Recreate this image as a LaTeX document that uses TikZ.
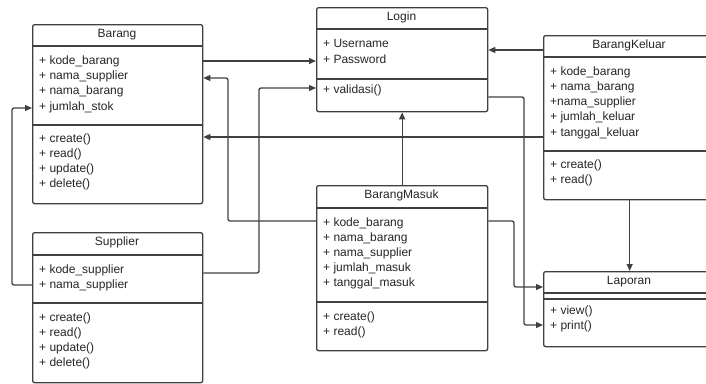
\documentclass[tikz,border=0pt]{standalone}
\usepackage{fontspec}
\setmainfont{Liberation Sans}
\usetikzlibrary{arrows.meta}
\definecolor{umlline}{HTML}{404040}
\definecolor{umltext}{HTML}{262626}

\begin{document}
\begin{tikzpicture}[x=1pt,y=-1pt,
  classbox/.style={draw=umlline,line width=1.3pt,rounded corners=2pt,fill=white,anchor=north west,inner sep=0pt},
  member/.style={anchor=west,inner sep=0pt,text=umltext,font=\fontsize{12}{15}\selectfont,text height=8.6pt,text depth=2.6pt},
  title/.style={member,anchor=center},
  conn/.style={draw=umlline,line width=1.3pt,rounded corners=2pt,-{Triangle[length=7pt,width=6pt]}}]
  \useasboundingbox (0,0) rectangle (706,383);

  % class boxes
  \foreach \cls/\ttl/\xa/\ya/\xb/\yb/\sa/\sb in {
    barang/Barang/32/24/202/203/46/125,
    supplier/Supplier/32/232/202/382/255/303,
    login/Login/316/7/487/111/29/79,
    keluar/BarangKeluar/543/35/715/199/57/151,
    masuk/BarangMasuk/316/185/487/350/208/302,
    laporan/Laporan/543/271/715/346/293/299
  } {
    \node[classbox,minimum width={\xb-\xa},minimum height={\yb-\ya}] (\cls) at (\xa,\ya) {};
    \node[title] (\cls-title) at ({(\xa+\xb)/2},{(\ya+\sa)/2-1}) {\ttl};
    \draw[umlline,line width=1.3pt] (\cls.west |- 0,\sa) -- (\cls.east |- 0,\sa);
    \draw[umlline,line width=1.3pt] (\cls.west |- 0,\sb) -- (\cls.east |- 0,\sb);
  }

  % members
  \foreach \cls/\y/\txt in {
    barang/61/+ kode\_barang, barang/76/+ nama\_supplier, barang/91/+ nama\_barang,
    barang/107/+ jumlah\_stok, barang/139/+ create(), barang/154/+ read(),
    barang/169/+ update(), barang/184/+ delete(),
    supplier/270/+ kode\_supplier, supplier/285/+ nama\_supplier, supplier/318/+ create(),
    supplier/333/+ read(), supplier/348/+ update(), supplier/363/+ delete(),
    login/44/+ Username, login/60/+ Password, login/90/+ validasi(),
    keluar/72/+ kode\_barang, keluar/87/+ nama\_barang, keluar/102/+nama\_supplier,
    keluar/117/+ jumlah\_keluar, keluar/133/+ tanggal\_keluar, keluar/165/+ create(),
    keluar/180/+ read(),
    masuk/223/+ kode\_barang, masuk/238/+ nama\_barang, masuk/253/+ nama\_supplier,
    masuk/268/+ jumlah\_masuk, masuk/283/+ tanggal\_masuk, masuk/317/+ create(),
    masuk/332/+ read(),
    laporan/311/+ view(), laporan/326/+ print()
  } {
    \node[member,xshift=7pt] (\cls-\y) at (\cls.west |- 0,\y) {\txt};
  }

  % connectors
  \draw[conn] (barang.east |- 0,61) -- (login.west |- 0,61);
  \draw[conn] (supplier.east |- 0,273) -| (259,88) -- (login.west |- 0,88);
  \draw[conn] (masuk.west |- 0,221) -| (228,78) -- (barang.east |- 0,78);
  \draw[conn] (keluar.west |- 0,137) -- (barang.east |- 0,137);
  \draw[conn] (keluar.west |- 0,50) -- (login.east |- 0,50);
  \draw[conn] (supplier.west |- 0,285) -| (12,108) -- (barang.west |- 0,108);
  \draw[conn] (masuk.north) -- (login.south);
  \draw[conn] (login.east |- 0,97) -| (524,325) -- (laporan.west |- 0,325);
  \draw[conn] (masuk.east |- 0,221) -| (514,287) -- (laporan.west |- 0,287);
  \draw[conn] (keluar.south) -- (laporan.north);
\end{tikzpicture}
\end{document}
